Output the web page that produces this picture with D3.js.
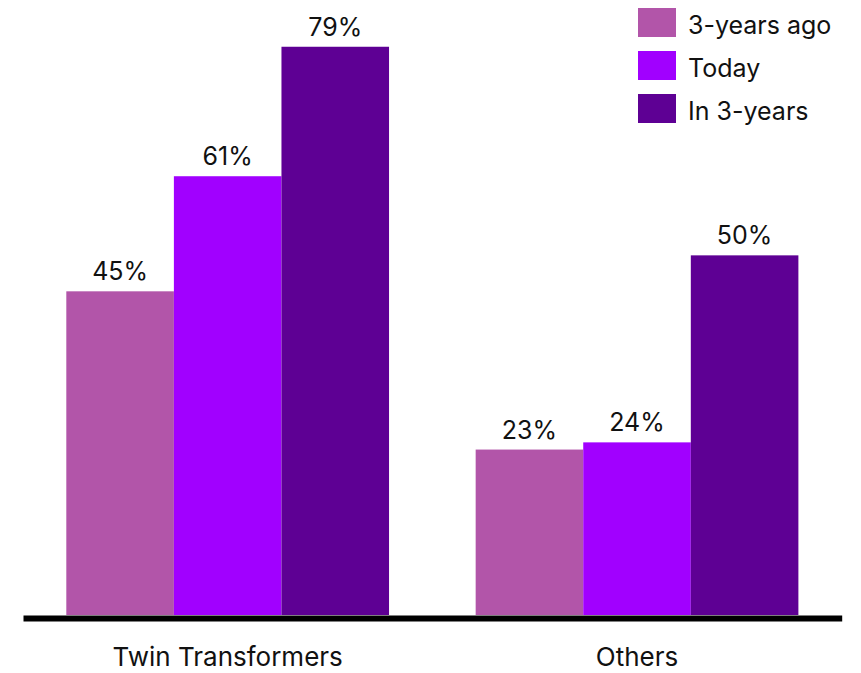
<!DOCTYPE html>
<html>
<head>
<meta charset="utf-8">
<script src="https://cdn.jsdelivr.net/npm/d3@7"></script>
<style>
  html, body { margin: 0; padding: 0; background: #fff; }
  svg { display: block; font-family: Inter, "Noto Sans", sans-serif; }
</style>
</head>
<body>
<svg id="chart" width="861" height="673"></svg>
<script>
// Share of respondents by group and time horizon (%)
const categories = ["Twin Transformers", "Others"];
const seriesNames = ["3-years ago", "Today", "In 3-years"];
const seriesColors = ["#B255A9", "#A100FF", "#5E0094"];
const threeYearsAgo = [45, 23];
const today = [61, 24];
const inThreeYears = [79, 50];

const seriesValues = [threeYearsAgo, today, inThreeYears];

const svg = d3.select("#chart");
const baseline = 615;

const x0 = d3.scaleBand()
  .domain(categories)
  .range([23, 841.7])
  .paddingInner(0.2116)
  .paddingOuter(0.1058);

const x1 = d3.scaleBand()
  .domain(seriesNames)
  .range([0, x0.bandwidth()]);

const y = d3.scaleLinear()
  .domain([0, 85.5])
  .range([baseline, 0]);

const color = d3.scaleOrdinal().domain(seriesNames).range(seriesColors);

const rows = categories.map((c, i) => ({
  category: c,
  values: seriesNames.map((s, j) => ({ series: s, value: seriesValues[j][i] }))
}));

const groups = svg.append("g")
  .selectAll("g")
  .data(rows)
  .join("g")
  .attr("transform", d => `translate(${x0(d.category)},0)`);

groups.selectAll("rect")
  .data(d => d.values)
  .join("rect")
  .attr("x", d => x1(d.series))
  .attr("y", d => y(d.value))
  .attr("width", x1.bandwidth())
  .attr("height", d => baseline - y(d.value))
  .attr("fill", d => color(d.series));

groups.selectAll("text")
  .data(d => d.values)
  .join("text")
  .attr("x", d => x1(d.series) + x1.bandwidth() / 2)
  .attr("y", d => y(d.value) - 11)
  .attr("text-anchor", "middle")
  .attr("font-size", 25)
  .attr("fill", "#111")
  .text(d => d.value + "%");

// x axis: thick baseline and category labels
const xAxis = svg.append("g")
  .attr("transform", `translate(0,${baseline + 3})`)
  .call(d3.axisBottom(x0).tickSize(0).tickPadding(29.5));
xAxis.select(".domain")
  .attr("stroke", "#000")
  .attr("stroke-width", 6);
xAxis.selectAll(".tick text")
  .attr("font-family", "Inter, 'Noto Sans', sans-serif")
  .attr("font-size", 26)
  .attr("fill", "#111");

// legend
const legend = svg.append("g")
  .selectAll("g")
  .data(seriesNames)
  .join("g")
  .attr("transform", (d, i) => `translate(638,${8 + i * 43})`);
legend.append("rect")
  .attr("width", 38)
  .attr("height", 29)
  .attr("fill", d => color(d));
legend.append("text")
  .attr("x", 50)
  .attr("y", 26)
  .attr("font-size", 25)
  .attr("fill", "#111")
  .text(d => d);
</script>
</body>
</html>
